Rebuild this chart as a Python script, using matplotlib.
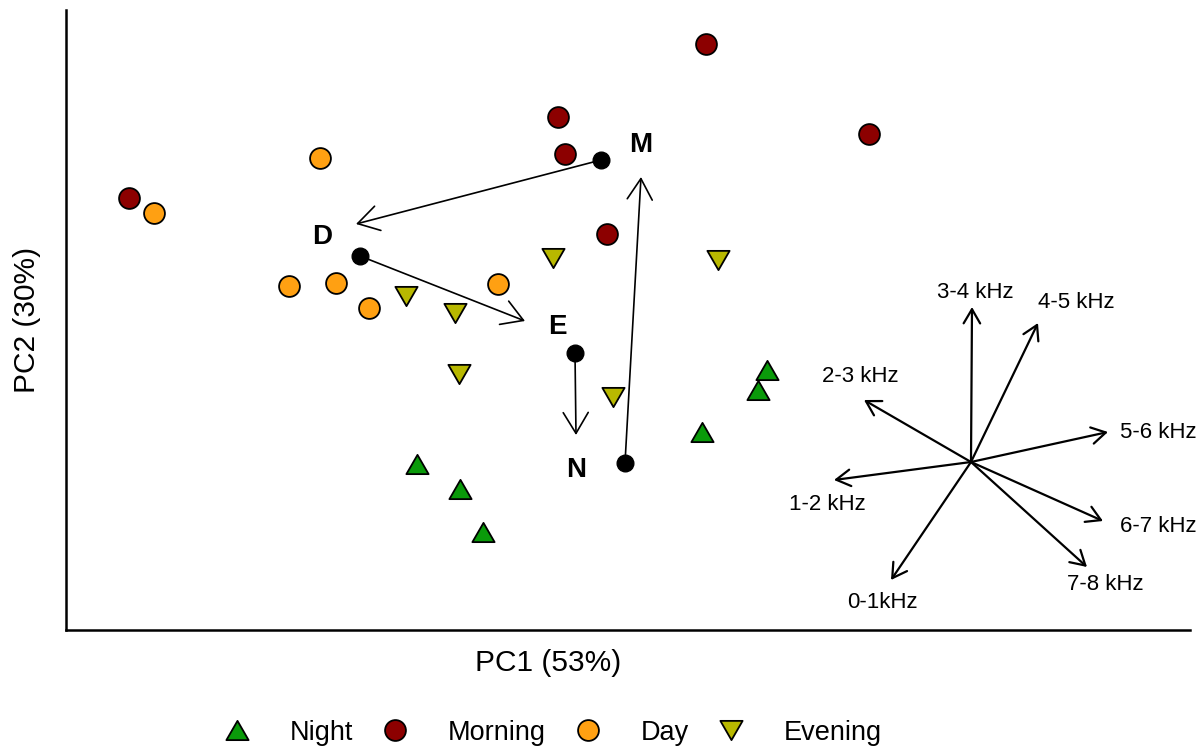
import matplotlib.pyplot as plt
from matplotlib.path import Path

plt.rcParams['font.family'] = ['Liberation Sans', 'DejaVu Sans']

# PCA scores of the recordings (PC1, PC2)
night_pc1 = [3.51, 3.94, 4.17, 6.36, 6.92, 7.01]
night_pc2 = [1.66, 1.41, 0.98, 1.98, 2.40, 2.60]
morning_pc1 = [0.63, 4.92, 4.99, 6.40, 8.03, 5.41]
morning_pc2 = [4.32, 5.13, 4.76, 5.86, 4.96, 3.96]
day_pc1 = [0.88, 2.54, 2.23, 2.70, 3.03, 4.32]
day_pc2 = [4.17, 4.72, 3.44, 3.47, 3.22, 3.46]
evening_pc1 = [3.40, 3.89, 3.93, 4.87, 6.52, 5.47]
evening_pc2 = [3.34, 3.17, 2.56, 3.72, 3.70, 2.33]

# group centroids and the daily cycle M -> D -> E -> N -> M
centroid_names = ['M', 'D', 'E', 'N']
centroid_pc1 = [5.35, 2.94, 5.09, 5.59]
centroid_pc2 = [4.70, 3.74, 2.77, 1.67]
cycle_tips_pc1 = [2.90, 4.59, 5.10, 5.75]
cycle_tips_pc2 = [4.06, 3.09, 1.95, 4.53]
label_pc1 = [5.75, 2.56, 4.91, 5.10]
label_pc2 = [4.85, 3.93, 3.03, 1.60]

# frequency band loadings (drawn from a common origin)
origin = (9.05, 1.68)
band_names = ['3-4 kHz', '4-5 kHz', '2-3 kHz', '5-6 kHz', '1-2 kHz', '6-7 kHz', '7-8 kHz', '0-1kHz']
band_tip_x = [9.06, 9.72, 7.98, 10.42, 7.68, 10.37, 10.21, 8.25]
band_tip_y = [3.23, 3.07, 2.30, 1.98, 1.50, 1.09, 0.63, 0.50]
band_lab_x = [9.09, 10.10, 7.94, 10.92, 7.61, 10.92, 10.39, 8.16]
band_lab_y = [3.37, 3.28, 2.53, 1.97, 1.25, 1.03, 0.45, 0.28]

up_tri = Path([(-1, -0.866), (1, -0.866), (0, 0.866), (-1, -0.866)], closed=True)
down_tri = Path([(-1, 0.866), (1, 0.866), (0, -0.866), (-1, 0.866)], closed=True)

fig = plt.figure(figsize=(12.03, 7.51), dpi=100)
ax = fig.add_axes([66 / 1203, 121 / 751, 1124 / 1203, 620 / 751])

mk = dict(linestyle='none', markeredgecolor='black', markeredgewidth=1.3)
ax.plot(night_pc1, night_pc2, marker=up_tri, markersize=16, color='#0a9a0a', label='Night', **mk)
ax.plot(morning_pc1, morning_pc2, marker='o', markersize=15, color='#8c0000', label='Morning', **mk)
ax.plot(day_pc1, day_pc2, marker='o', markersize=15, color='#ffa012', label='Day', **mk)
ax.plot(evening_pc1, evening_pc2, marker=down_tri, markersize=16, color='#b8b800', label='Evening', **mk)

# cycle arrows between centroids
for i in range(4):
    ax.annotate('', xy=(cycle_tips_pc1[i], cycle_tips_pc2[i]),
                xytext=(centroid_pc1[i], centroid_pc2[i]),
                arrowprops=dict(arrowstyle='->, head_length=0.75, head_width=0.45',
                                mutation_scale=20, lw=1.2, color='black',
                                shrinkA=0, shrinkB=0))
ax.plot(centroid_pc1, centroid_pc2, 'o', color='black', markersize=12, zorder=5)
for name, x, y in zip(centroid_names, label_pc1, label_pc2):
    ax.text(x, y, name, fontsize=20, fontweight='bold', ha='center', va='center')

# loading vectors
for name, tx, ty, lx, ly in zip(band_names, band_tip_x, band_tip_y, band_lab_x, band_lab_y):
    ax.annotate('', xy=(tx, ty), xytext=origin,
                arrowprops=dict(arrowstyle='->, head_length=0.6, head_width=0.35',
                                mutation_scale=17, lw=1.6, color='black',
                                shrinkA=0, shrinkB=0))
    ax.text(lx, ly, name, fontsize=16, ha='center', va='center')

ax.set_xlim(0, 11.24)
ax.set_ylim(0, 6.2)
ax.set_xticks([])
ax.set_yticks([])
for side in ['top', 'right']:
    ax.spines[side].set_visible(False)
for side in ['left', 'bottom']:
    ax.spines[side].set_linewidth(1.8)

ax.set_xlabel('PC1 (53%)', fontsize=21.5)
ax.xaxis.set_label_coords(0.429, -0.03)
ax.set_ylabel('PC2 (30%)', fontsize=21.5)
ax.yaxis.set_label_coords(-0.022, 0.5)

fig.legend(loc='center', bbox_to_anchor=(0.458, 0.024), ncol=4, frameon=False,
           fontsize=19.5, handlelength=1.2, handletextpad=1.35, columnspacing=0.95)

fig.savefig('out.png', dpi=100)
